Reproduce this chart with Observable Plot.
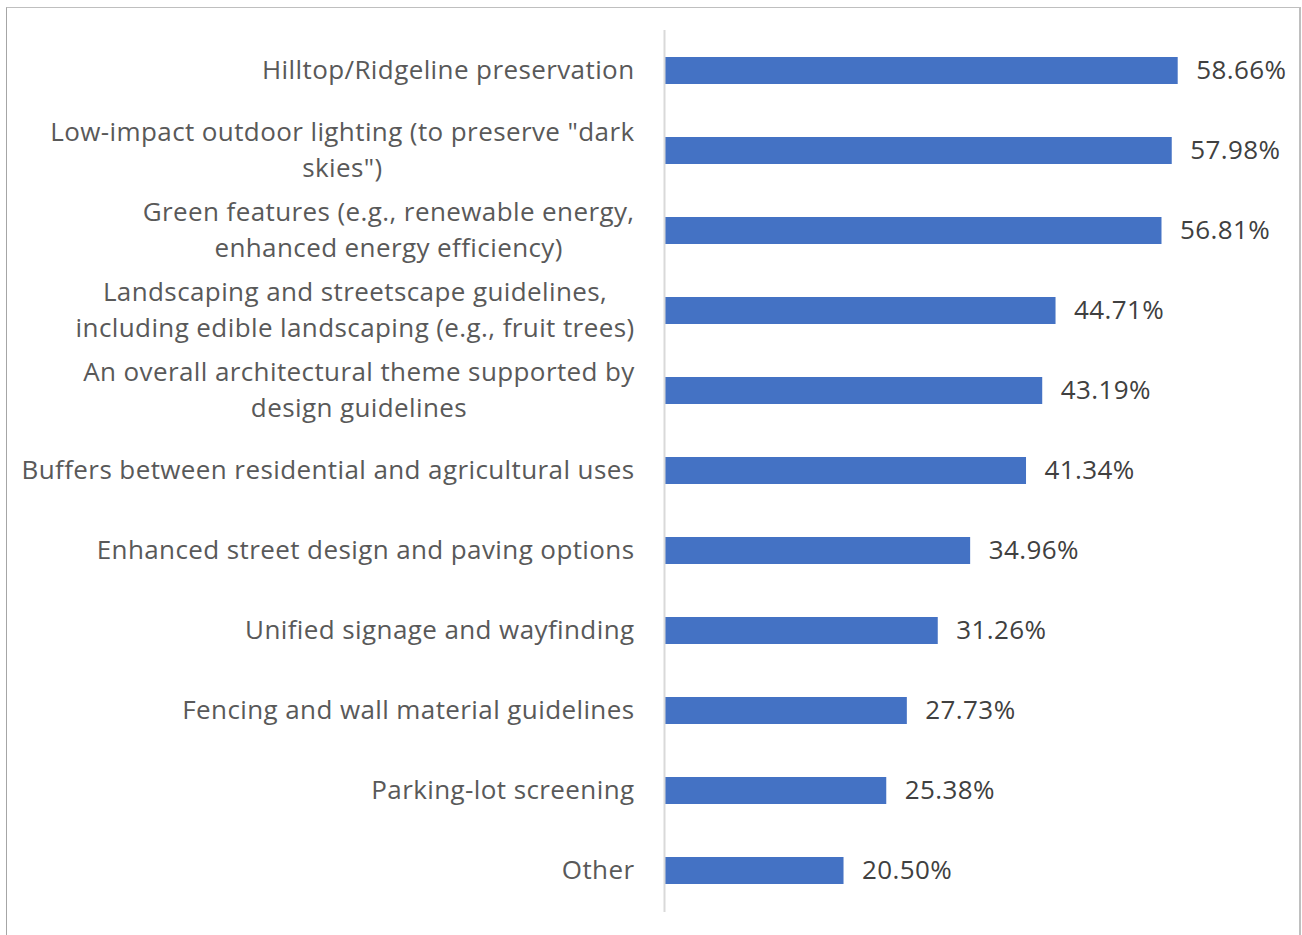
<!DOCTYPE html>
<html>
<head>
<meta charset="utf-8">
<script src="https://cdn.jsdelivr.net/npm/d3@7"></script>
<script src="https://cdn.jsdelivr.net/npm/@observablehq/plot@0.6"></script>
<style>
  html, body { margin: 0; padding: 0; background: #fff; }
  #wrap { position: relative; width: 1302px; height: 935px; overflow: hidden; }
  #frame { position: absolute; left: 6px; top: 7px; width: 1292px; height: 960px;
           border-left: 1px solid #a6a6a6; border-top: 1px solid #bfbfbf; border-right: 2px solid #bfbfbf; }
  #chart { position: absolute; left: 0; top: 0; }
  #chart svg text { letter-spacing: 0.4px; }
</style>
</head>
<body>
<div id="wrap"><div id="frame"></div><div id="chart"></div></div>
<script>
const categories = [
  "Hilltop/Ridgeline preservation",
  "Low-impact outdoor lighting (to preserve \"dark\nskies\")",
  "Green features (e.g., renewable energy,\nenhanced energy efficiency)",
  "Landscaping and streetscape guidelines,\nincluding edible landscaping (e.g., fruit trees)",
  "An overall architectural theme supported by\ndesign guidelines",
  "Buffers between residential and agricultural uses",
  "Enhanced street design and paving options",
  "Unified signage and wayfinding",
  "Fencing and wall material guidelines",
  "Parking-lot screening",
  "Other"
];
const values = [58.66, 57.98, 56.81, 44.71, 43.19, 41.34, 34.96, 31.26, 27.73, 25.38, 20.50];
const valueLabels = ["58.66%", "57.98%", "56.81%", "44.71%", "43.19%", "41.34%", "34.96%", "31.26%", "27.73%", "25.38%", "20.50%"];

const data = categories.map((c, i) => ({category: c, value: values[i], label: valueLabels[i]}));

const chart = Plot.plot({
  width: 1302,
  height: 935,
  marginLeft: 664,
  marginRight: 25,
  marginTop: 30,
  marginBottom: 23,
  style: {fontFamily: "'Open Sans', sans-serif", fontSize: "26px", background: "transparent"},
  x: {domain: [0, 70], axis: null},
  y: {domain: categories, paddingInner: 0.66, paddingOuter: 0.33, label: null},
  marks: [
    Plot.axisY({tickSize: 0, tickPadding: 30, fill: "#595959", fontSize: 26, lineHeight: 1.385, dy: -4, label: null}),
    Plot.barX(data, {x: "value", y: "category", fill: "#4472C4", insetLeft: 1}),
    Plot.ruleX([0], {stroke: "#d9d9d9", strokeWidth: 2}),
    Plot.text(data, {x: "value", y: "category", text: "label", textAnchor: "start", dx: 18, fill: "#404040", fontSize: 26})
  ]
});
document.getElementById("chart").appendChild(chart);

// Center wrapped (multi-line) category labels within their block, keeping the right edge
chart.querySelectorAll('g[aria-label="y-axis tick label"] text').forEach(t => {
  const spans = t.querySelectorAll("tspan");
  if (spans.length > 1) {
    const b = t.getBBox();
    const right = b.x + b.width;
    t.setAttribute("text-anchor", "middle");
    spans.forEach(s => s.setAttribute("x", right - b.width / 2));
  }
});
</script>
</body>
</html>
